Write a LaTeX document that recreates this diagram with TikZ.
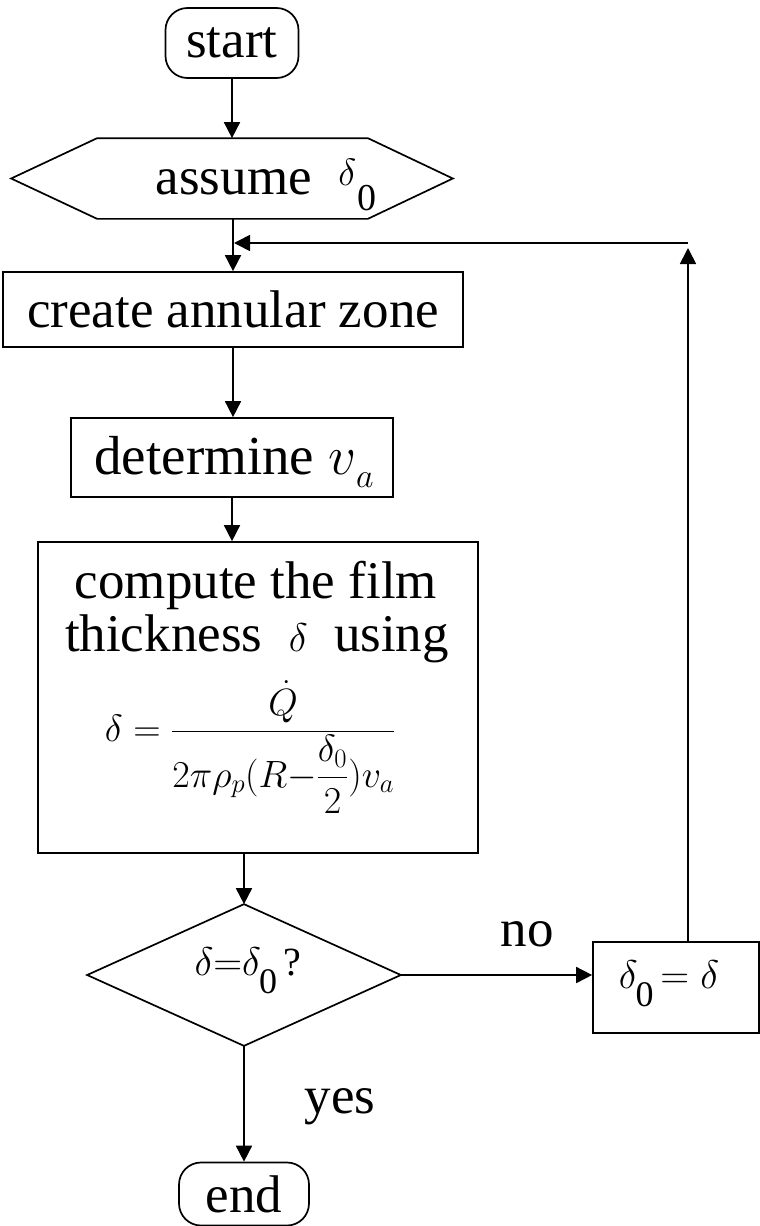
\RequirePackage{fix-cm}
\documentclass[tikz,border=0pt]{standalone}
\usepackage{amsmath}
\usepackage{fontspec}
\setmainfont{Liberation Serif}
\usetikzlibrary{arrows.meta,calc}
\newcommand{\lowzero}[2]{\raisebox{#1}{\fontsize{#2}{#2}\selectfont 0}}
\begin{document}
\begin{tikzpicture}[x=1pt,y=-1pt,
  line width=1.7pt,
  >={Triangle[length=16pt,width=16pt]},
  txt/.style={font=\fontsize{53}{60}\selectfont, inner sep=0pt},
  box/.style={draw, rectangle, inner sep=0pt},
  ghost/.style={rectangle, inner sep=0pt},
  mth/.style={font=\fontsize{40}{44}\selectfont, inner sep=0pt},
]
\useasboundingbox[fill=white] (0,0) rectangle (760,1226);

% shapes
\node[box, txt, rounded corners=22pt, minimum width=133pt, minimum height=70pt] (start) at (232,43) {start};

\node[ghost, minimum width=440pt, minimum height=79pt] (hex) at (232,178.5) {};
\draw (hex.west) -- ($(hex.north west)+(86,0)$) -- ($(hex.north east)+(-85,0)$) -- (hex.east)
      -- ($(hex.south east)+(-85,0)$) -- ($(hex.south west)+(86,0)$) -- cycle;
\node[txt, anchor=base] (hextxt) at (266,194)
  {assume\ \ \raisebox{9pt}{\fontsize{38}{40}\selectfont$\delta$}\hspace{1pt}\lowzero{-16pt}{38}};

\node[box, txt, minimum width=460pt, minimum height=75pt] (create) at (233,309.5) {create annular zone};

\node[box, minimum width=322pt, minimum height=79pt] (det) at (232,457.5) {};
\node[txt, anchor=base, font=\fontsize{55}{60}\selectfont] (dettxt) at (234,474)
  {determine $v$\raisebox{-13pt}{\fontsize{34}{36}\selectfont$a$}};

\node[box, minimum width=440pt, minimum height=311pt] (comp) at (258,697.5) {};
\node[txt, anchor=base] (c1) at (256,598) {compute the film};
\node[txt, anchor=base] (c2) at (257,651) {thickness\ \ {\fontsize{40}{44}\selectfont$\delta$}\ \ using};
\node[anchor=base, font=\fontsize{38}{42}\selectfont, inner sep=0pt] (c3) at (250,741)
  {$\delta = \dfrac{\dot{Q}}{2\pi\rho_p(R{-}\dfrac{\delta_0}{2})v_a}$};

\node[ghost, minimum width=312pt, minimum height=140pt] (dia) at (244,975) {};
\draw (dia.north) -- (dia.east) -- (dia.south) -- (dia.west) -- cycle;
\node[mth, anchor=base] (diatxt) at (248,975) {$\delta{=}\delta$\hspace{-2pt}\lowzero{-18pt}{36}\,?};

\node[box, minimum width=166pt, minimum height=91pt] (upd) at (676,987.5) {};
\node[mth, anchor=base] (updtxt) at (669,988) {$\delta$\hspace{-2pt}\lowzero{-18pt}{36}\,$=\delta$};

\node[box, txt, rounded corners=22pt, minimum width=130pt, minimum height=63pt] (end) at (244,1194) {end};

% labels
\node[txt, anchor=base] (no) at (527,946) {no};
\node[txt, anchor=base] (yes) at (340,1113) {yes};

% connectors
\coordinate (corner) at (688,243);
\coordinate (join) at (234,243);
\draw[->] (start.south) -- (start.south |- hex.north);
\draw[->] (hex.south -| create.north) -- (create.north);
\draw[->] (create.south) -- (create.south |- det.north);
\draw[->] (det.south) -- (det.south |- comp.north);
\draw[->] (dia.north |- comp.south) -- (dia.north);
\draw[->] (dia.east) -- (dia.east -| upd.west);
\draw[->] (dia.south) -- (end.north);
\draw[->] (upd.north -| corner) -- ($(corner)+(0,5)$);
\draw[->] (corner) -- (join);
\end{tikzpicture}
\end{document}
